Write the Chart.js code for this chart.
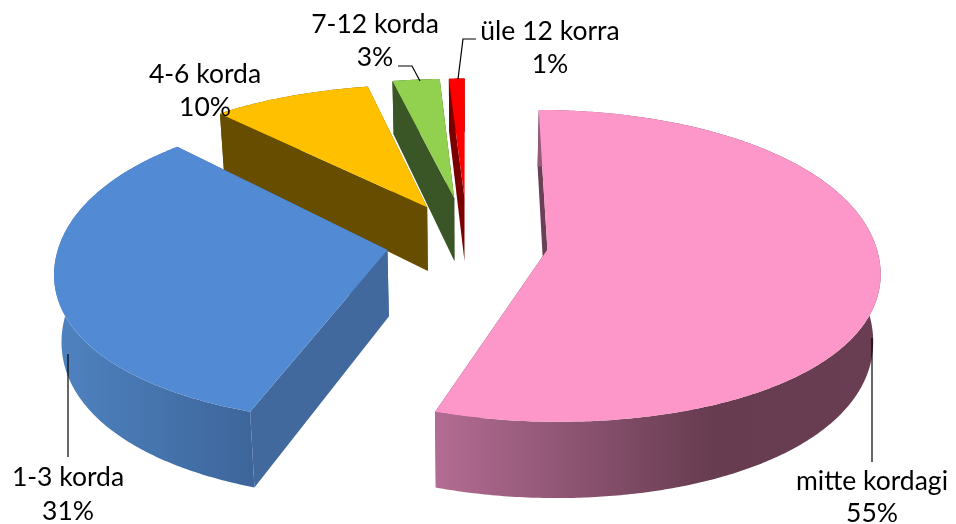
<!DOCTYPE html>
<html><head><meta charset="utf-8">
<style>html,body{margin:0;padding:0;background:#fff}canvas{display:block}</style>
<script src="https://cdn.jsdelivr.net/npm/chart.js@4/dist/chart.umd.min.js"></script>
</head><body><canvas id="c" width="956" height="524"></canvas>
<script>
const categories = ['mitte kordagi', '1-3 korda', '4-6 korda', '7-12 korda', 'üle 12 korra'];
const shares = [55, 31, 10, 3, 1];
const topColors = ['#FD97C9', '#528AD4', '#FFC000', '#92D050', '#FF0000'];

const explode = [0.247, 0.245, 0.258, 0.29, 0.29];
const warpBy = [0.07, 0.113, 0.113, 0.113, 0.113];
const view = {cx: 467, cy: 243, A: 328, B: 165, D: 66, ax: 0.12, ayBack: 0.2, ayFar: 0.11, ayFront: 0.04, b: 0.018, dz: 0.15};
const walls = {
  0: {radial: '#6B3F55', stops: [[0, '#B36C93'], [0.62, '#673C50'], [1, '#693D52']], x0: 435, x1: 880},
  1: {radial: '#41699E', stops: [[0, '#4E82BF'], [1, '#3D659A']], x0: 60, x1: 255},
  2: {radial: '#664D00', stops: [[0, '#664D00'], [1, '#664D00']], x0: 200, x1: 430},
  3: {radial: '#3A5526', stops: [[0, '#3A5526'], [1, '#3A5526']], x0: 390, x1: 460},
  4: {radial: '#7A0000', stops: [[0, '#7A0000'], [1, '#660000']], x0: 450, x1: 470}
};
const labelSpots = [
  {x: 872, y1: 490, y2: 522, leader: [[872, 338], [872, 462]]},
  {x: 68, y1: 486, y2: 520, leader: [[68, 354], [68, 457]]},
  {x: 205, y1: 83, y2: 116, leader: null},
  {x: 375, y1: 33, y2: 66, leader: [[398, 66], [412, 66], [420, 81]]},
  {x: 550, y1: 40, y2: 73, leader: [[476, 39], [463, 39], [458, 79]]}
];

function project(u, v, z) {
  const wx = 1 - view.ax * v + view.b * z;
  const wy = 1 - (v < 0 ? view.ayBack : view.ayFront) * v + view.ayFar * Math.max(0, -v - 0.96);
  return [view.cx + u * view.A / wx, view.cy + v * view.B / wy + z * view.D * (1 + view.dz * v)];
}
// angle measured from the chart's own arc angle, eased so the back-left of the disc opens up as in the picture
function warp(t, amount) {
  const fromTop = t + Math.PI / 2;
  return t + amount * Math.max(0, -Math.sin(fromTop));
}
const pie3d = {
  id: 'pie3d',
  beforeDatasetDraw(chart) {
    const ctx = chart.ctx;
    const arcs = chart.getDatasetMeta(0).data;
    const order = arcs.map((_, i) => i).reverse();
    for (const i of order) {
      const arc = arcs[i];
      const s = arc.startAngle, e = arc.endAngle, mid = warp((s + e) / 2, warpBy[i]);
      const f = arc.options.offset / 200;
      const ou = Math.cos(mid) * f, ov = Math.sin(mid) * f;
      const n = Math.max(4, Math.ceil((e - s) / 0.01));
      const rim = [];
      for (let k = 0; k <= n; k++) {
        const t = warp(s + (e - s) * k / n, warpBy[i]);
        rim.push([ou + Math.cos(t), ov + Math.sin(t)]);
      }
      const poly = (pts, fill) => {
        ctx.beginPath();
        pts.forEach((p, idx) => idx ? ctx.lineTo(p[0], p[1]) : ctx.moveTo(p[0], p[1]));
        ctx.closePath();
        ctx.fillStyle = fill;
        ctx.fill();
      };
      const w = walls[i];
      const apexTop = project(ou, ov, 0), apexBot = project(ou, ov, 1);
      const first = rim[0], last = rim[n];
      poly([apexTop, project(first[0], first[1], 0), project(first[0], first[1], 1), apexBot], w.radial);
      poly([apexTop, project(last[0], last[1], 0), project(last[0], last[1], 1), apexBot], w.radial);
      const g = ctx.createLinearGradient(w.x0, 0, w.x1, 0);
      w.stops.forEach(st => g.addColorStop(st[0], st[1]));
      poly(rim.map(p => project(p[0], p[1], 0)).concat(rim.slice().reverse().map(p => project(p[0], p[1], 1))), g);
      poly([apexTop].concat(rim.map(p => project(p[0], p[1], 0))), arc.options.backgroundColor);
    }
    return false;
  },
  afterDraw(chart) {
    const ctx = chart.ctx;
    ctx.save();
    ctx.strokeStyle = '#000';
    ctx.lineWidth = 1.2;
    labelSpots.forEach(l => {
      if (!l.leader) return;
      ctx.beginPath();
      l.leader.forEach((p, idx) => idx ? ctx.lineTo(p[0], p[1]) : ctx.moveTo(p[0], p[1]));
      ctx.stroke();
    });
    ctx.fillStyle = '#000';
    ctx.font = '26.5px Lato';
    ctx.textAlign = 'center';
    ctx.textBaseline = 'alphabetic';
    categories.forEach((c, i) => {
      ctx.fillText(c, labelSpots[i].x, labelSpots[i].y1);
      ctx.fillText(shares[i] + '%', labelSpots[i].x, labelSpots[i].y2);
    });
    ctx.restore();
  }
};
new Chart(document.getElementById('c'), {
  type: 'pie',
  data: {labels: categories, datasets: [{
    data: shares,
    backgroundColor: topColors,
    borderWidth: 0,
    offset: ctx => explode[ctx.dataIndex] * 200
  }]},
  options: {
    responsive: false,
    animation: false,
    layout: {padding: 0},
    plugins: {legend: {display: false}, tooltip: {enabled: false}, title: {display: false}}
  },
  plugins: [pie3d]
});
</script></body></html>
